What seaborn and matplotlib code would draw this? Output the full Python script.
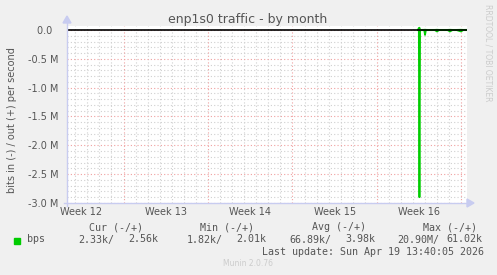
import matplotlib
matplotlib.use("Agg")
import matplotlib.pyplot as plt
import seaborn as sns
import pandas as pd
import numpy as np

# ---- data (days relative to start of Week 13) ----
week_labels = ["Week 12", "Week 13", "Week 14", "Week 15", "Week 16"]
week_centers = [-3.5, 3.5, 10.5, 17.5, 24.5]
t_days = [24.40, 24.47, 24.52, 24.57, 24.65, 24.80, 24.92, 24.98, 25.05, 25.20,
          25.50, 25.80, 25.97, 26.15, 26.50, 26.85, 27.05, 27.25, 27.60, 27.96,
          28.15, 28.40]
in_bps = [2.1e3, 2.2e3, 2.9e6, 3.0e3, 2.0e3, 2.5e3, 4.0e3, 85e3, 3.0e3, 2.0e3,
          2.0e3, 2.0e3, 25e3, 2.0e3, 2.0e3, 2.0e3, 25e3, 2.0e3, 2.0e3, 25e3,
          2.0e3, 2.33e3]
out_bps = [2.5e3, 35e3, 40e3, 3.0e3, 2.0e3, 2.5e3, 3.0e3, 5.0e3, 3.0e3, 2.0e3,
           2.0e3, 2.0e3, 4.0e3, 2.0e3, 2.0e3, 2.0e3, 4.0e3, 2.0e3, 2.0e3, 4.0e3,
           2.0e3, 2.56e3]
yticks = [0.0, -0.5e6, -1.0e6, -1.5e6, -2.0e6, -2.5e6, -3.0e6]
ytick_labels = ["0.0  ", "-0.5 M", "-1.0 M", "-1.5 M", "-2.0 M", "-2.5 M", "-3.0 M"]
legend_headers = ["Cur (-/+)", "Min (-/+)", "Avg (-/+)", "Max (-/+)"]
legend_values = ["2.33k/", "2.56k", "1.82k/", "2.01k", "66.89k/", "3.98k", "20.90M/", "61.02k"]

df_in = pd.DataFrame({"t": t_days, "v": [-v for v in in_bps]})
df_out = pd.DataFrame({"t": t_days, "v": out_bps})

W, H = 497, 275
fig = plt.figure(figsize=(W / 100, H / 100), dpi=100)
fig.patch.set_facecolor("#F0F0F0")
plt.rcParams["font.family"] = ["DejaVu Sans"]

def fx(px):
    return px / W

def fy(py):
    return 1 - py / H

L, R, T, B = 67, 467, 26, 203
ax = fig.add_axes([fx(L), fy(B), fx(R - L), fy(T) - fy(B)])
ax.set_facecolor("white")

px_per_day = 12.07
x0 = 123.5
ax.set_xlim(-(x0 - L) / px_per_day, (R - x0) / px_per_day)
ax.set_ylim(-3.0e6, 4 / 173 * 3e6)

# grid
for d in np.arange(-4, 29, 1):
    if d % 7 != 0:
        ax.axvline(d, color="#D0D0D0", lw=0.8, ls=(0, (1, 2)), zorder=0)
for d in [0, 7, 14, 21, 28]:
    ax.axvline(d, color="#F0A0A0", lw=0.8, ls=(0, (1, 2)), zorder=0.5)
for v in np.arange(-3.0e6, 0.01e6, 0.1e6):
    if abs(round(v / 0.5e6) * 0.5e6 - v) > 1:
        ax.axhline(v, color="#D0D0D0", lw=0.8, ls=(0, (1, 2)), zorder=0)
for v in yticks:
    ax.axhline(v, color="#F0A0A0", lw=0.8, ls=(0, (1, 2)), zorder=0.5)

sns.lineplot(data=df_in, x="t", y="v", ax=ax, color="#00CC00", lw=1.3, zorder=3)
sns.lineplot(data=df_out, x="t", y="v", ax=ax, color="#00CC00", lw=1.3, zorder=3)
ax.axhline(0, color="black", lw=1.2, zorder=4)

for s in ax.spines.values():
    s.set_visible(False)
ax.set_xlabel("")
ax.set_ylabel("")
ax.set_yticks(yticks)
ax.set_yticklabels(ytick_labels)
ax.set_xticks(week_centers)
ax.set_xticklabels(week_labels)
ax.tick_params(axis="y", length=0, pad=6, labelsize=7, labelcolor="#555555")
ax.tick_params(axis="x", length=0, pad=3, labelsize=7, labelcolor="#555555")

# axis lines with arrows
axc = "#C8CCF0"
fig.add_artist(plt.Line2D([fx(L), fx(L)], [fy(B + 3), fy(21)], color=axc, lw=1.0))
fig.add_artist(plt.Line2D([fx(L - 3), fx(468)], [fy(B), fy(B)], color=axc, lw=1.0))
fig.add_artist(plt.Polygon([[fx(L - 4), fy(23)], [fx(L + 4), fy(23)], [fx(L), fy(16)]],
                           closed=True, color=axc))
fig.add_artist(plt.Polygon([[fx(467), fy(B - 4)], [fx(467), fy(B + 4)], [fx(474), fy(B)]],
                           closed=True, color=axc))

# texts
fig.text(fx(248), fy(19), "enp1s0 traffic - by month", ha="center", va="center",
         fontsize=9, color="#555555")
fig.text(fx(12), fy(120), "bits in (-) / out (+) per second", rotation=90,
         ha="center", va="center", fontsize=7, color="#555555")
fig.text(fx(488), fy(4), "RRDTOOL / TOBI OETIKER", rotation=270, ha="center",
         va="top", fontsize=5.5, color="#CCCCCC")

mono = "DejaVu Sans Mono"
hx = [89.3, 200.3, 311.7, 422.7]
for x, s in zip(hx, legend_headers):
    fig.text(fx(x), fy(227), s, family=mono, fontsize=7.2, color="#555555",
             ha="left", va="center")
fig.add_artist(plt.Rectangle((fx(14), fy(243.5)), fx(6), fy(237.5) - fy(243.5),
                             color="#00CC00"))
fig.text(fx(26.7), fy(239.5), "bps", family=mono, fontsize=7.2, color="#555555",
         ha="left", va="center")
vx = [78.7, 128.7, 186.7, 236.5, 289.0, 345.3, 397.3, 446.7]
for x, s in zip(vx, legend_values):
    fig.text(fx(x), fy(239.5), s, family=mono, fontsize=7.2, color="#555555",
             ha="left", va="center")
fig.text(fx(261.7), fy(252), "Last update: Sun Apr 19 13:40:05 2026", family=mono,
         fontsize=7.2, color="#555555", ha="left", va="center")
fig.text(fx(222.7), fy(264), "Munin 2.0.76", fontsize=5.5, color="#CCCCCC",
         ha="left", va="center")

fig.savefig("out.png", dpi=100, facecolor=fig.get_facecolor())
